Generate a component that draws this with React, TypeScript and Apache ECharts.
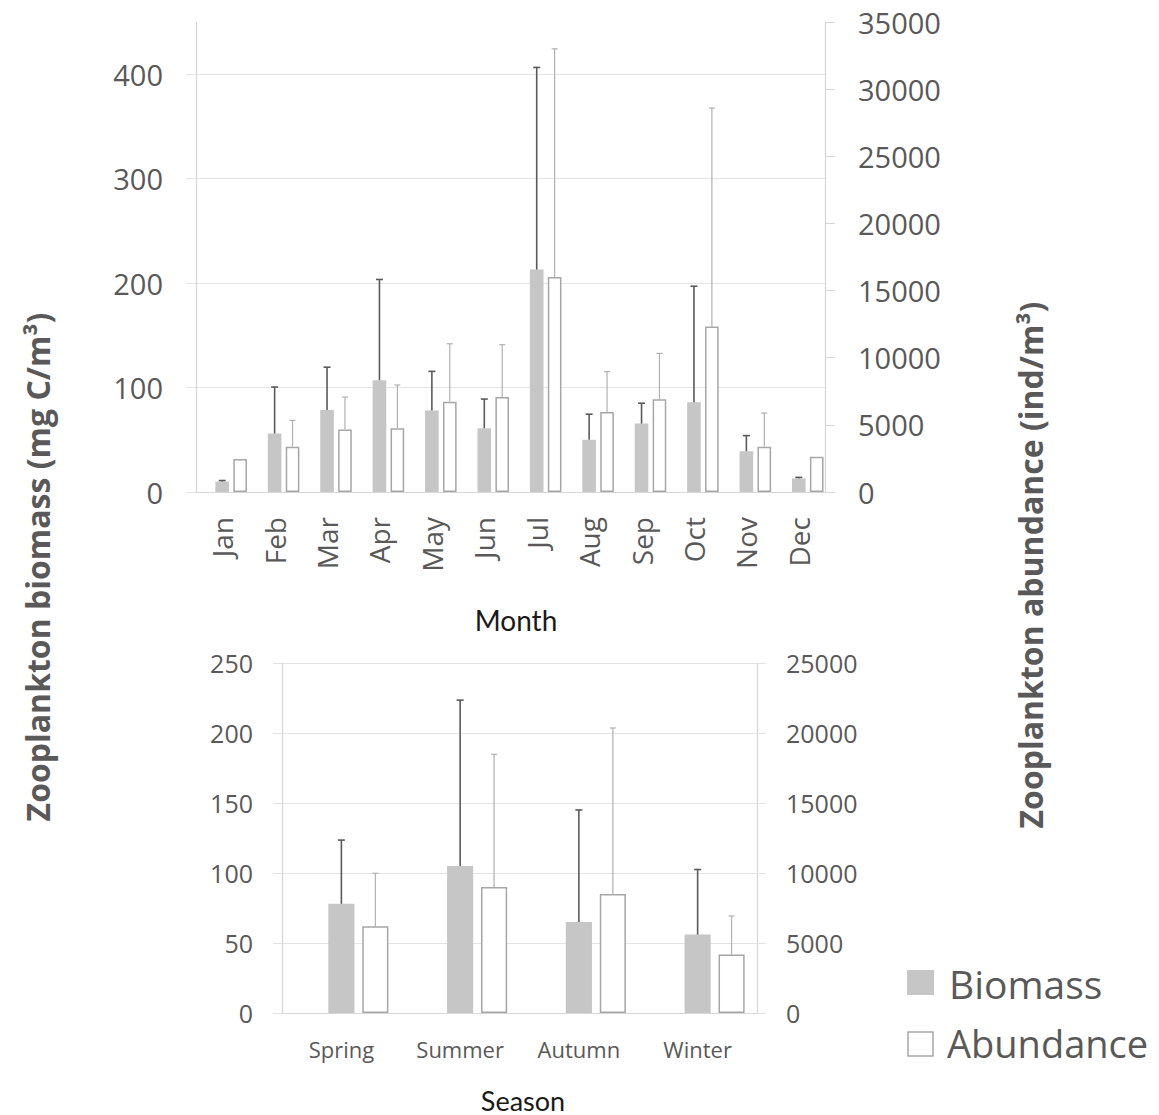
import React, { useEffect, useRef } from "react";
import * as echarts from "echarts";

const months = ["Jan", "Feb", "Mar", "Apr", "May", "Jun", "Jul", "Aug", "Sep", "Oct", "Nov", "Dec"];
const biomassMonth = [10, 56, 78.5, 107, 78, 61, 213, 50, 65.5, 86, 39, 13];
const biomassMonthErrTop = [11, 100.5, 119.5, 203.5, 115.5, 89, 406.5, 74.5, 85, 197, 54, 14];
const abundanceMonth = [2450, 3370, 4660, 4740, 6720, 7070, 16010, 5960, 6900, 12330, 3370, 2630];
const abundanceMonthErrTop = [null, 5330, 7070, 7970, 11040, 10970, 33000, 8960, 10320, 28590, 5880, null];

const seasons = ["Spring", "Summer", "Autumn", "Winter"];
const biomassSeason = [78, 105, 65, 56];
const biomassSeasonErrTop = [123.5, 223.5, 145, 102.5];
const abundanceSeason = [6190, 9000, 8500, 4170];
const abundanceSeasonErrTop = [9980, 18480, 20360, 6930];

const leftTicksTop = [0, 100, 200, 300, 400];

const GRAY_BAR = "#c6c6c6";
const OUTLINE = "#a6a6a6";
const LABEL = "#595959";
const GRID = "#e3e3e3";
const AXIS = "#d6d6d6";
const FONT = "'Open Sans', sans-serif";

function errRender(offsetFrac: number, color: string, width: number, capHalf: number) {
  return (params: any, api: any) => {
    const hi = api.value(1);
    if (hi == null || isNaN(hi)) return;
    const idx = api.value(0);
    const top = api.coord([idx, hi]);
    const base = api.coord([idx, api.value(2)]);
    const dx = api.size([1, 0])[0] * offsetFrac;
    const x = top[0] + dx;
    return {
      type: "group",
      children: [
        { type: "line", shape: { x1: x, y1: base[1], x2: x, y2: top[1] }, style: { stroke: color, lineWidth: width } },
        { type: "line", shape: { x1: x - capHalf, y1: top[1], x2: x + capHalf, y2: top[1] }, style: { stroke: color, lineWidth: width } },
      ],
    };
  };
}

const plain = (v: number) => String(v);

export default function App() {
  const ref = useRef<HTMLDivElement>(null);
  useEffect(() => {
    if (!ref.current) return;
    const chart = echarts.init(ref.current, undefined, { renderer: "svg" });

    const topW = 0.26, topGap = 0.315;
    const botW = 0.22, botGap = 0.3;

    const option: any = {
      animation: false,
      backgroundColor: "#ffffff",
      grid: [
        { left: 196, right: 334, top: 22, bottom: 623 },
        { left: 282, right: 402, top: 663, bottom: 102 },
      ],
      xAxis: [
        {
          type: "category", gridIndex: 0, data: months,
          axisLine: { lineStyle: { color: AXIS, width: 1.2 } },
          axisTick: { show: false },
          axisLabel: { rotate: 90, interval: 0, margin: 25, fontSize: 28, color: LABEL, fontFamily: FONT },
        },
        {
          type: "category", gridIndex: 1, data: seasons,
          axisLine: { lineStyle: { color: AXIS, width: 1.2 } },
          axisTick: { show: false },
          axisLabel: { interval: 0, margin: 25, fontSize: 22, color: LABEL, fontFamily: FONT },
        },
      ],
      yAxis: [
        {
          type: "value", gridIndex: 0, min: 0, max: 450, interval: 100,
          axisLine: { show: true, lineStyle: { color: AXIS, width: 1.2 } },
          axisTick: { show: true, inside: false, length: 10, lineStyle: { color: GRID }, customValues: leftTicksTop },
          axisLabel: { margin: 33, fontSize: 29, color: LABEL, fontFamily: FONT, customValues: leftTicksTop, formatter: plain },
          splitLine: { show: true, lineStyle: { color: [GRID, GRID, GRID, GRID, GRID, "rgba(0,0,0,0)"], width: 1.2 } },
        },
        {
          type: "value", gridIndex: 0, position: "right", min: 0, max: 35000, interval: 5000,
          axisLine: { show: true, lineStyle: { color: AXIS, width: 1.2 } },
          axisTick: { show: true, inside: false, length: 10, lineStyle: { color: AXIS } },
          axisLabel: { margin: 33, fontSize: 29, color: LABEL, fontFamily: FONT, formatter: plain },
          splitLine: { show: false },
        },
        {
          type: "value", gridIndex: 1, min: 0, max: 250, interval: 50,
          axisLine: { show: true, lineStyle: { color: AXIS, width: 1.2 } },
          axisTick: { show: true, inside: false, length: 9, lineStyle: { color: GRID } },
          axisLabel: { margin: 29, fontSize: 25, color: LABEL, fontFamily: FONT, formatter: plain },
          splitLine: { show: true, lineStyle: { color: GRID, width: 1.2 } },
        },
        {
          type: "value", gridIndex: 1, position: "right", min: 0, max: 25000, interval: 5000,
          axisLine: { show: true, lineStyle: { color: AXIS, width: 1.2 } },
          axisTick: { show: true, inside: false, length: 9, lineStyle: { color: GRID } },
          axisLabel: { margin: 29, fontSize: 25, color: LABEL, fontFamily: FONT, formatter: plain },
          splitLine: { show: false },
        },
      ],
      series: [
        // top chart
        { type: "bar", name: "pad", xAxisIndex: 0, yAxisIndex: 0, data: months.map(() => null), barWidth: topW * 100 + "%", barGap: topGap * 100 + "%", silent: true },
        { type: "bar", name: "Biomass", xAxisIndex: 0, yAxisIndex: 0, data: biomassMonth, barWidth: topW * 100 + "%", barGap: topGap * 100 + "%", itemStyle: { color: GRAY_BAR } },
        { type: "bar", name: "Abundance", xAxisIndex: 0, yAxisIndex: 1, data: abundanceMonth, barWidth: topW * 100 + "%", barGap: topGap * 100 + "%", itemStyle: { color: "#ffffff", borderColor: OUTLINE, borderWidth: 1.5 } },
        {
          type: "custom", xAxisIndex: 0, yAxisIndex: 0, z: 5,
          renderItem: errRender(0, "#5a5a5a", 1.6, 3.5),
          data: months.map((m, i) => [i, biomassMonthErrTop[i], biomassMonth[i]]),
          encode: { x: 0, y: 1 },
        },
        {
          type: "custom", xAxisIndex: 0, yAxisIndex: 1, z: 5,
          renderItem: errRender(topW * (1 + topGap), "#b0b0b0", 1.2, 3),
          data: months.map((m, i) => [i, abundanceMonthErrTop[i], abundanceMonth[i]]),
          encode: { x: 0, y: 1 },
        },
        // bottom chart
        { type: "bar", name: "pad2", xAxisIndex: 1, yAxisIndex: 2, data: seasons.map(() => null), barWidth: botW * 100 + "%", barGap: botGap * 100 + "%", silent: true },
        { type: "bar", name: "Biomass", xAxisIndex: 1, yAxisIndex: 2, data: biomassSeason, barWidth: botW * 100 + "%", barGap: botGap * 100 + "%", itemStyle: { color: GRAY_BAR } },
        { type: "bar", name: "Abundance", xAxisIndex: 1, yAxisIndex: 3, data: abundanceSeason, barWidth: botW * 100 + "%", barGap: botGap * 100 + "%", itemStyle: { color: "#ffffff", borderColor: OUTLINE, borderWidth: 1.5 } },
        {
          type: "custom", xAxisIndex: 1, yAxisIndex: 2, z: 5,
          renderItem: errRender(0, "#5a5a5a", 1.6, 3.5),
          data: seasons.map((s, i) => [i, biomassSeasonErrTop[i], biomassSeason[i]]),
          encode: { x: 0, y: 1 },
        },
        {
          type: "custom", xAxisIndex: 1, yAxisIndex: 3, z: 5,
          renderItem: errRender(botW * (1 + botGap), "#b0b0b0", 1.2, 3),
          data: seasons.map((s, i) => [i, abundanceSeasonErrTop[i], abundanceSeason[i]]),
          encode: { x: 0, y: 1 },
        },
      ],
      graphic: [
        { type: "text", x: 516, y: 620, style: { text: "Month", fill: "#1a1a1a", font: "28px Lato, sans-serif", align: "center", verticalAlign: "middle" } },
        { type: "text", x: 523, y: 1100, style: { text: "Season", fill: "#1a1a1a", font: "27px Lato, sans-serif", align: "center", verticalAlign: "middle" } },
        { type: "text", x: 37, y: 567, rotation: Math.PI / 2, style: { text: "Zooplankton biomass (mg C/m³)", fill: LABEL, font: "bold 32px 'Open Sans', sans-serif", align: "center", verticalAlign: "middle" } },
        { type: "text", x: 1030, y: 565, rotation: Math.PI / 2, style: { text: "Zooplankton abundance (ind/m³)", fill: LABEL, font: "bold 32px 'Open Sans', sans-serif", align: "center", verticalAlign: "middle" } },
        { type: "rect", shape: { x: 907, y: 970, width: 27, height: 25 }, style: { fill: GRAY_BAR } },
        { type: "rect", shape: { x: 908, y: 1032, width: 25, height: 24 }, style: { fill: "#ffffff", stroke: OUTLINE, lineWidth: 1.5 } },
        { type: "text", x: 949, y: 983, style: { text: "Biomass", fill: LABEL, font: "39px 'Open Sans', sans-serif", align: "left", verticalAlign: "middle" } },
        { type: "text", x: 947, y: 1043, style: { text: "Abundance", fill: LABEL, font: "38px 'Open Sans', sans-serif", align: "left", verticalAlign: "middle" } },
      ],
    };
    chart.setOption(option);
    return () => chart.dispose();
  }, []);
  return (
    <div
      ref={ref}
      style={{ position: "fixed", left: 0, top: 0, width: 1159, height: 1115, background: "#fff" }}
    />
  );
}
